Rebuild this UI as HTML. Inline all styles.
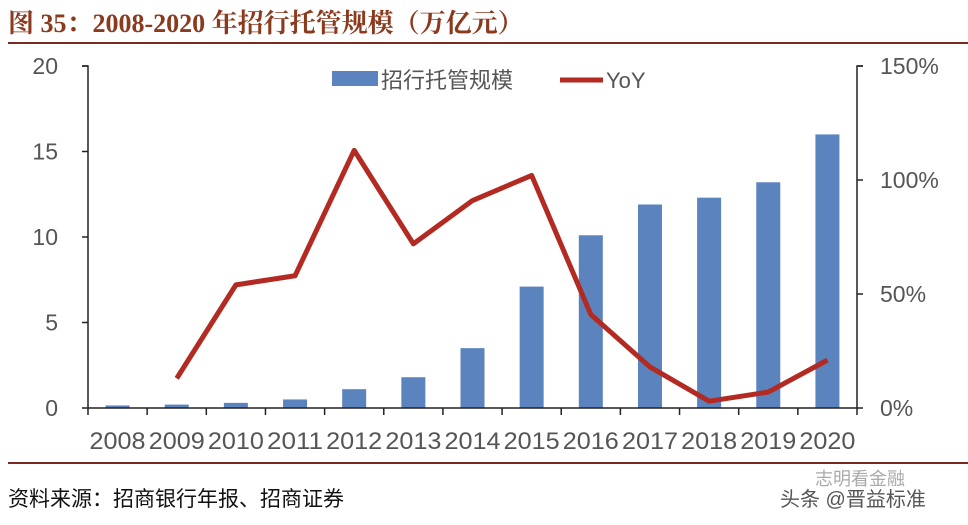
<!DOCTYPE html>
<html><head><meta charset="utf-8"><style>
body{margin:0;background:#fff;width:968px;height:520px;overflow:hidden;font-family:"Liberation Sans","Noto Sans CJK SC",sans-serif}
svg text{font-family:"Liberation Sans","Noto Sans CJK SC",sans-serif}
</style></head><body>
<svg width="968" height="520">
<text x="8" y="32" font-size="26" font-weight="bold" fill="#8B3A1E" style="font-family:'Liberation Serif','Noto Serif CJK SC',serif">图 35：2008-2020 年招行托管规模（万亿元）</text>
<rect x="8" y="42" width="960" height="2" fill="#7A2A20"/>
<rect x="8" y="462" width="960" height="2" fill="#7A2A20"/>
<text x="8" y="506" font-size="21" fill="#111">资料来源：招商银行年报、招商证券</text>
<text x="815" y="485" font-size="18" fill="#aaa">志明看金融</text>
<text x="780" y="506" font-size="20" fill="#555">头条 @晋益标准</text>
<g>
<rect x="332" y="71" width="46" height="15" fill="#5B83BE"/>
<text x="381" y="88" font-size="22" fill="#555">招行托管规模</text>
<line x1="560" y1="80" x2="603" y2="80" stroke="#B22A22" stroke-width="5"/>
<text x="606" y="88" font-size="22" fill="#555">YoY</text>
</g>
<g id="plot"></g>
</svg>
<script>
const categories=["2008","2009","2010","2011","2012","2013","2014","2015","2016","2017","2018","2019","2020"];
const sizeValues=[0.15,0.2,0.3,0.5,1.1,1.8,3.5,7.1,10.1,11.9,12.3,13.2,16.0];
const yoyValues=[null,13,54,58,113,72,91,102,41,18,3,7,21];
const leftTicks=[0,5,10,15,20];
const rightTicks=[0,50,100,150];
const L=88,R=857,T=66,B=408;
const NS="http://www.w3.org/2000/svg";
const g=document.getElementById('plot');
const step=(R-L)/categories.length;
const xc=i=>L+step*(i+0.5);
const yL=v=>B-(v/20)*(B-T);
const yR=v=>B-(v/150)*(B-T);
function mk(t,a){const e=document.createElementNS(NS,t);for(const k in a)e.setAttribute(k,a[k]);g.appendChild(e);return e;}
sizeValues.forEach((v,i)=>{const e=mk('rect',{x:xc(i)-12,y:yL(v),width:24,height:B-yL(v),fill:'#5B83BE'});

});
let ax=mk('path',{d:`M${L-6},${T}H${L}V${B}H${R}V${T}H${R+6}`,fill:'none',stroke:'#222','stroke-width':1.5});


for(let i=0;i<=categories.length;i++){const t=mk('line',{x1:L+step*i,x2:L+step*i,y1:B,y2:B+7,stroke:'#222','stroke-width':1.5});

}
categories.forEach((c,i)=>{const t=mk('text',{x:xc(i)-28,y:B+41,'font-size':24,fill:'#555',textLength:56,lengthAdjust:'spacingAndGlyphs'});t.textContent=c;

});
leftTicks.forEach(v=>{const t=mk('text',{x:58,y:yL(v)+8,'font-size':23,'text-anchor':'end',fill:'#555'});t.textContent=v;


const k=mk('line',{x1:L-6,x2:L,y1:yL(v),y2:yL(v),stroke:'#222','stroke-width':1.5});

});
rightTicks.forEach(v=>{const t=mk('text',{x:880,y:yR(v)+8,'font-size':23,fill:'#555'});t.textContent=v+'%';


const k=mk('line',{x1:R,x2:R+6,y1:yR(v),y2:yR(v),stroke:'#222','stroke-width':1.5});

});
const pts=yoyValues.map((v,i)=>v==null?null:xc(i)+','+yR(v)).filter(p=>p);
const ln=mk('polyline',{points:pts.join(' '),fill:'none',stroke:'#B22A22','stroke-width':5,'stroke-linejoin':'round'});


</script>
</body></html>
